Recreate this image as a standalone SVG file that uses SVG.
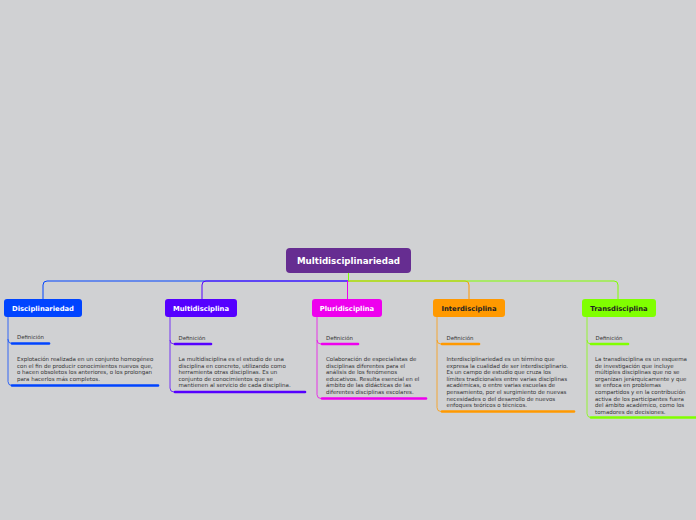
<svg xmlns="http://www.w3.org/2000/svg" width="696" height="520" viewBox="0 0 696 520">
<style>
.bg{fill:#d0d1d3}
.lbl{font-family:"DejaVu Sans",Verdana,sans-serif;font-weight:bold;font-size:6.8px}
.root{font-family:"DejaVu Sans",Verdana,sans-serif;font-weight:bold;font-size:8.7px;fill:#fff}
.def{font-family:"DejaVu Sans",Verdana,sans-serif;font-size:5.4px;fill:#333}
.desc{font-family:"DejaVu Sans",Verdana,sans-serif;font-size:5.5px;fill:#333}
.c{fill:none;stroke-width:1}
.ul{fill:none;stroke-width:2.6;stroke-linecap:round}
.sub{fill:none;stroke-width:1;opacity:0.75}
</style>
<rect class="bg" x="0" y="0" width="696" height="520"/>
<g id="connectors">
<path class="c" stroke="#0044ff" d="M348.5,273 V281 H47 Q43,281 43,285 V299"/>
<path class="c" stroke="#5500ff" d="M348.5,273 V281 H206 Q202,281 202,285 V299"/>
<path class="c" stroke="#ee00ee" d="M348.5,273 V281 H347.5 V299"/>
<path class="c" stroke="#ff9900" d="M348.5,273 V281 H465 Q469,281 469,285 V299"/>
<path class="c" stroke="#80ff00" d="M348.5,273 V281 H614 Q618,281 618,285 V299"/>
<path class="sub" stroke="#0044ff" d="M8,317 V339.5 Q8,343.5 12,343.5 M8,339 V381.5 Q8,385.5 12,385.5"/>
<path class="sub" stroke="#5500ff" d="M170,317 V340 Q170,344 174,344 M170,340 V388 Q170,392 174,392"/>
<path class="sub" stroke="#ee00ee" d="M317,317 V340 Q317,344 321,344 M317,340 V394.5 Q317,398.5 321,398.5"/>
<path class="sub" stroke="#ff9900" d="M437,317 V340 Q437,344 441,344 M437,340 V407.5 Q437,411.5 441,411.5"/>
<path class="sub" stroke="#80ff00" d="M587,317 V340 Q587,344 591,344 M587,340 V413.5 Q587,417.5 591,417.5"/>
</g>
<g id="root">
<rect x="286" y="248" width="125" height="25" rx="4" fill="#662d91"/>
<text class="root" x="348.5" y="263.8" text-anchor="middle">Multidisciplinariedad</text>
</g>
<g id="disciplinariedad">
<rect x="4" y="299" width="78" height="18" rx="3" fill="#0044ff"/>
<text class="lbl" x="43" y="310.5" text-anchor="middle" fill="#fff">Disciplinariedad</text>
<text class="def" x="17" y="339.3">Definición</text>
<path class="ul" stroke="#0044ff" d="M12,343.5 H49"/>
<text class="desc" y="361"><tspan x="17">Explotación realizada en un conjunto homogéneo</tspan><tspan x="17" dy="6.6">con el fin de producir conocimientos nuevos que,</tspan><tspan x="17" dy="6.6">o hacen obsoletos los anteriores, o los prolongan</tspan><tspan x="17" dy="6.6">para hacerlos más completos.</tspan></text>
<path class="ul" stroke="#0044ff" d="M12,385.5 H158"/>
</g>
<g id="multidisciplina">
<rect x="165" y="299" width="72" height="18" rx="3" fill="#5500ff"/>
<text class="lbl" x="201" y="310.5" text-anchor="middle" fill="#fff">Multidisciplina</text>
<text class="def" x="178.5" y="339.5">Definición</text>
<path class="ul" stroke="#5500ff" d="M175,344 H211"/>
<text class="desc" y="361"><tspan x="178.5">La multidisciplina es el estudio de una</tspan><tspan x="178.5" dy="6.6">disciplina en concreto, utilizando como</tspan><tspan x="178.5" dy="6.6">herramienta otras disciplinas. Es un</tspan><tspan x="178.5" dy="6.6">conjunto de conocimientos que se</tspan><tspan x="178.5" dy="6.6">mantienen al servicio de cada disciplina.</tspan></text>
<path class="ul" stroke="#5500ff" d="M175,392 H305"/>
</g>
<g id="pluridisciplina">
<rect x="312" y="299" width="70" height="18" rx="3" fill="#ee00ee"/>
<text class="lbl" x="347" y="310.5" text-anchor="middle" fill="#fff">Pluridisciplina</text>
<text class="def" x="326" y="339.5">Definición</text>
<path class="ul" stroke="#ee00ee" d="M322,344 H358"/>
<text class="desc" y="361"><tspan x="326">Colaboración de especialistas de</tspan><tspan x="326" dy="6.6">disciplinas diferentes para el</tspan><tspan x="326" dy="6.6">análisis de los fenómenos</tspan><tspan x="326" dy="6.6">educativos. Resulta esencial en el</tspan><tspan x="326" dy="6.6">ámbito de las didácticas de las</tspan><tspan x="326" dy="6.6">diferentes disciplinas escolares.</tspan></text>
<path class="ul" stroke="#ee00ee" d="M322,398.5 H426"/>
</g>
<g id="interdisciplina">
<rect x="433" y="299" width="72" height="18" rx="3" fill="#ff9900"/>
<text class="lbl" x="469" y="310.5" text-anchor="middle" fill="#222">Interdisciplina</text>
<text class="def" x="446.5" y="339.5">Definición</text>
<path class="ul" stroke="#ff9900" d="M442,344 H479"/>
<text class="desc" y="361"><tspan x="446.5">Interdisciplinariedad es un término que</tspan><tspan x="446.5" dy="6.6">expresa la cualidad de ser interdisciplinario.</tspan><tspan x="446.5" dy="6.6">Es un campo de estudio que cruza los</tspan><tspan x="446.5" dy="6.6">límites tradicionales entre varias disciplinas</tspan><tspan x="446.5" dy="6.6">académicas, o entre varias escuelas de</tspan><tspan x="446.5" dy="6.6">pensamiento, por el surgimiento de nuevas</tspan><tspan x="446.5" dy="6.6">necesidades o del desarrollo de nuevos</tspan><tspan x="446.5" dy="6.6">enfoques teóricos o técnicos.</tspan></text>
<path class="ul" stroke="#ff9900" d="M442,411.5 H574"/>
</g>
<g id="transdisciplina">
<rect x="582" y="299" width="74" height="18" rx="3" fill="#80ff00"/>
<text class="lbl" x="619" y="310.5" text-anchor="middle" fill="#222">Transdisciplina</text>
<text class="def" x="595.5" y="339.5">Definición</text>
<path class="ul" stroke="#80ff00" d="M591,344 H628"/>
<text class="desc" y="361"><tspan x="595">La transdisciplina es un esquema</tspan><tspan x="595" dy="6.6">de investigación que incluye</tspan><tspan x="595" dy="6.6">múltiples disciplinas que no se</tspan><tspan x="595" dy="6.6">organizan jerárquicamente y que</tspan><tspan x="595" dy="6.6">se enfoca en problemas</tspan><tspan x="595" dy="6.6">compartidos y en la contribución</tspan><tspan x="595" dy="6.6">activa de los participantes fuera</tspan><tspan x="595" dy="6.6">del ámbito académico, como los</tspan><tspan x="595" dy="6.6">tomadores de decisiones.</tspan></text>
<path class="ul" stroke="#80ff00" d="M591,417.5 H697"/>
</g>
</svg>
